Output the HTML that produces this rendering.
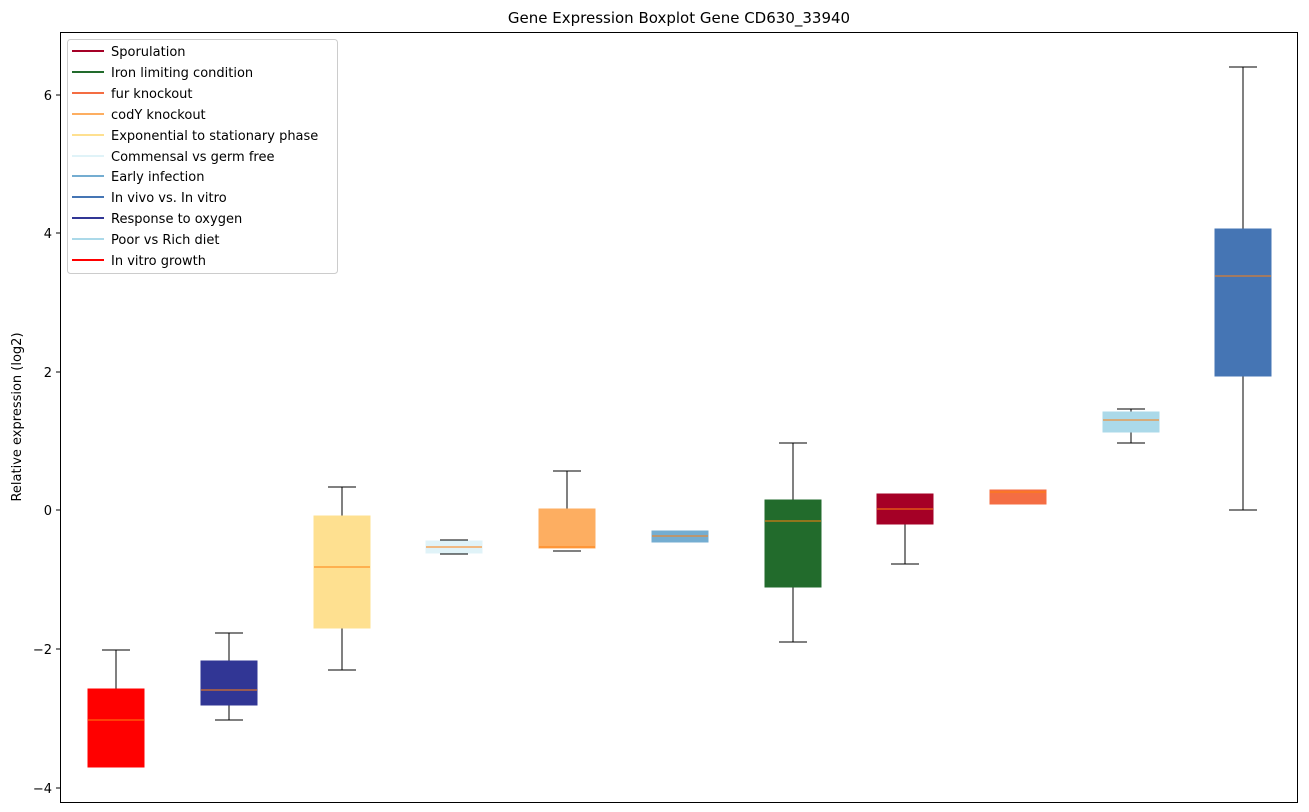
<!DOCTYPE html>
<html><head><style>body{margin:0;background:#fff}svg{display:block}</style></head><body>
<svg width="1309" height="812" xmlns="http://www.w3.org/2000/svg" font-family="DejaVu Sans, Liberation Sans, sans-serif">
<rect width="1309" height="812" fill="#fff"/>
<text x="679" y="23" font-size="15" text-anchor="middle">Gene Expression Boxplot Gene CD630_33940</text>
<g stroke="#000" stroke-width="1">
<g><line x1="116" y1="650" x2="116" y2="689"/><line x1="102" y1="650" x2="130" y2="650"/><line x1="102" y1="767" x2="130" y2="767"/><rect x="88" y="689" width="56" height="78" fill="#ff0000" stroke="#ff0000"/><line x1="88" y1="720" x2="144" y2="720" stroke="#ff7f0e"/></g>
<g><line x1="229" y1="633" x2="229" y2="661"/><line x1="229" y1="705" x2="229" y2="720"/><line x1="215" y1="633" x2="243" y2="633"/><line x1="215" y1="720" x2="243" y2="720"/><rect x="201" y="661" width="56" height="44" fill="#313695" stroke="#313695"/><line x1="201" y1="690" x2="257" y2="690" stroke="#ff7f0e"/></g>
<g><line x1="342" y1="487" x2="342" y2="516"/><line x1="342" y1="628" x2="342" y2="670"/><line x1="328" y1="487" x2="356" y2="487"/><line x1="328" y1="670" x2="356" y2="670"/><rect x="314" y="516" width="56" height="112" fill="#fee090" stroke="#fee090"/><line x1="314" y1="567" x2="370" y2="567" stroke="#ff7f0e"/></g>
<g><line x1="440" y1="540" x2="468" y2="540"/><line x1="440" y1="554" x2="468" y2="554"/><rect x="426" y="541" width="56" height="12" fill="#e0f3f8" stroke="#e0f3f8"/><line x1="426" y1="547" x2="482" y2="547" stroke="#ff7f0e"/></g>
<g><line x1="567" y1="471" x2="567" y2="509"/><line x1="553" y1="471" x2="581" y2="471"/><line x1="553" y1="551" x2="581" y2="551"/><rect x="539" y="509" width="56" height="39" fill="#fdae61" stroke="#fdae61"/><line x1="539" y1="547" x2="595" y2="547" stroke="#ff7f0e"/></g>
<g><line x1="666" y1="531" x2="694" y2="531"/><line x1="666" y1="542" x2="694" y2="542"/><rect x="652" y="531" width="56" height="11" fill="#74add1" stroke="#74add1"/><line x1="652" y1="536" x2="708" y2="536" stroke="#ff7f0e"/></g>
<g><line x1="793" y1="443" x2="793" y2="500"/><line x1="793" y1="587" x2="793" y2="642"/><line x1="779" y1="443" x2="807" y2="443"/><line x1="779" y1="642" x2="807" y2="642"/><rect x="765" y="500" width="56" height="87" fill="#226b2c" stroke="#226b2c"/><line x1="765" y1="521" x2="821" y2="521" stroke="#ff7f0e"/></g>
<g><line x1="905" y1="524" x2="905" y2="564"/><line x1="891" y1="494" x2="919" y2="494"/><line x1="891" y1="564" x2="919" y2="564"/><rect x="877" y="494" width="56" height="30" fill="#a50026" stroke="#a50026"/><line x1="877" y1="509" x2="933" y2="509" stroke="#ff7f0e"/></g>
<g><rect x="990" y="490" width="56" height="14" fill="#f46d43" stroke="#f46d43"/><line x1="990" y1="492" x2="1046" y2="492" stroke="#ff7f0e"/></g>
<g><line x1="1131" y1="409" x2="1131" y2="412"/><line x1="1131" y1="432" x2="1131" y2="443"/><line x1="1117" y1="409" x2="1145" y2="409"/><line x1="1117" y1="443" x2="1145" y2="443"/><rect x="1103" y="412" width="56" height="20" fill="#abd9e9" stroke="#abd9e9"/><line x1="1103" y1="420" x2="1159" y2="420" stroke="#ff7f0e"/></g>
<g><line x1="1243" y1="67" x2="1243" y2="229"/><line x1="1243" y1="376" x2="1243" y2="510"/><line x1="1229" y1="67" x2="1257" y2="67"/><line x1="1229" y1="510" x2="1257" y2="510"/><rect x="1215" y="229" width="56" height="147" fill="#4575b4" stroke="#4575b4"/><line x1="1215" y1="276" x2="1271" y2="276" stroke="#ff7f0e"/></g>
</g>
<rect x="60.5" y="32.5" width="1237" height="770" fill="none" stroke="#000"/>
<g stroke="#000"><line x1="56" y1="95" x2="60" y2="95"/><line x1="56" y1="233" x2="60" y2="233"/><line x1="56" y1="372" x2="60" y2="372"/><line x1="56" y1="510" x2="60" y2="510"/><line x1="56" y1="649" x2="60" y2="649"/><line x1="56" y1="788" x2="60" y2="788"/></g>
<g font-size="13" text-anchor="end"><text x="52" y="100">6</text><text x="52" y="238">4</text><text x="52" y="377">2</text><text x="52" y="515">0</text><text x="52" y="654">−2</text><text x="52" y="793">−4</text></g>
<text transform="translate(21,417) rotate(-90)" font-size="13" text-anchor="middle">Relative expression (log2)</text>
<rect x="67.5" y="39.5" width="270" height="234" rx="3" fill="#fff" fill-opacity="0.8" stroke="#ccc"/>
<g font-size="13" stroke-width="2">
<line x1="72" y1="51" x2="104" y2="51" stroke="#a50026"/><text x="111" y="56">Sporulation</text>
<line x1="72" y1="72" x2="104" y2="72" stroke="#226b2c"/><text x="111" y="77">Iron limiting condition</text>
<line x1="72" y1="93" x2="104" y2="93" stroke="#f46d43"/><text x="111" y="98">fur knockout</text>
<line x1="72" y1="114" x2="104" y2="114" stroke="#fdae61"/><text x="111" y="119">codY knockout</text>
<line x1="72" y1="135" x2="104" y2="135" stroke="#fee090"/><text x="111" y="140">Exponential to stationary phase</text>
<line x1="72" y1="156" x2="104" y2="156" stroke="#e0f3f8"/><text x="111" y="161">Commensal vs germ free</text>
<line x1="72" y1="176" x2="104" y2="176" stroke="#74add1"/><text x="111" y="181">Early infection</text>
<line x1="72" y1="197" x2="104" y2="197" stroke="#4575b4"/><text x="111" y="202">In vivo vs. In vitro</text>
<line x1="72" y1="218" x2="104" y2="218" stroke="#313695"/><text x="111" y="223">Response to oxygen</text>
<line x1="72" y1="239" x2="104" y2="239" stroke="#abd9e9"/><text x="111" y="244">Poor vs Rich diet</text>
<line x1="72" y1="260" x2="104" y2="260" stroke="#ff0000"/><text x="111" y="265">In vitro growth</text>
</g>
</svg>
</body></html>
